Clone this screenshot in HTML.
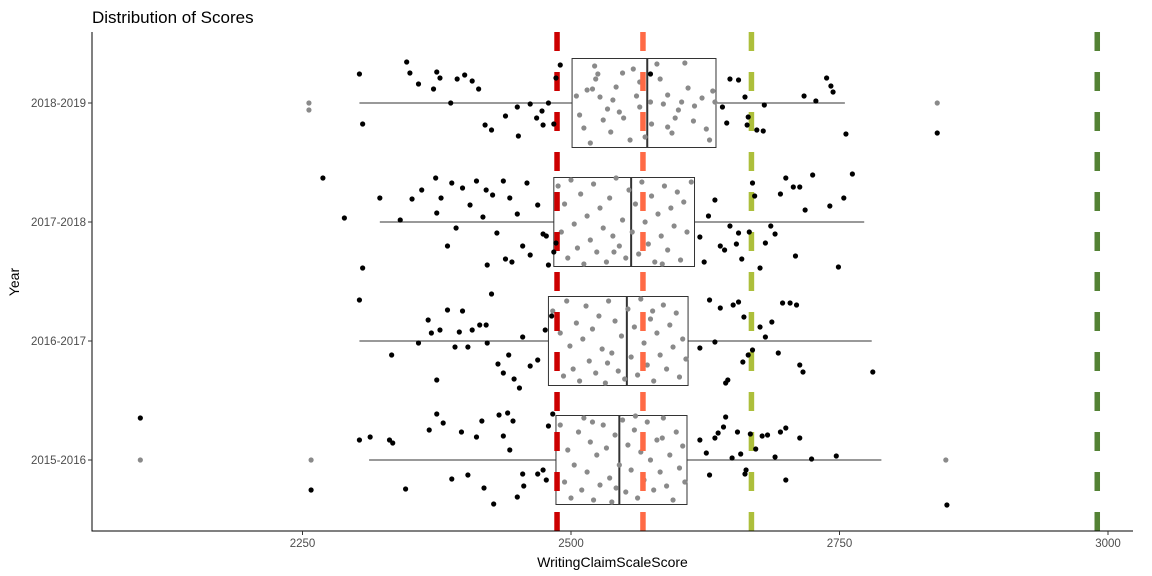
<!DOCTYPE html>
<html><head><meta charset="utf-8"><style>
body{margin:0;background:#fff;}
svg{display:block;font-family:"Liberation Sans",sans-serif;}
</style></head><body>
<svg id="chart" width="1152" height="576" viewBox="0 0 1152 576"></svg>
<script>
const years=["2015-2016","2016-2017","2017-2018","2018-2019"];
const boxLo=[2312,2303,2322,2303];
const boxQ1=[2486,2479,2484,2501];
const boxMed=[2545,2552,2556,2571];
const boxQ3=[2608,2609,2615,2635];
const boxHi=[2789,2780,2773,2755];
const outlierYear=[0,0,0,3,3,3];
const outlierVal=[2099,2258,2849,2256,2256,2841];
const outlierJit=[0,0,0,0,7,0];
const refLines=[2487,2567,2668,2990];
const refColors=["#cc0000","#ff6a45","#adbf3b","#548235"];
const xTicks=[2250,2500,2750,3000];
// black jittered points: score, jitter (px-ish offset)
const pts0=[[2099,-42],[2258,30],[2303,-20],[2313,-23],[2331,-20],[2334,-17],[2346,29],[2368,-30],[2375,-46],[2381,-37],[2389,19],[2398,-28],[2404,15],[2412,-23],[2417,-39],[2419,28],[2428,44],[2433,-45],[2437,-24],[2441,-47],[2443,-10],[2446,-39],[2450,37],[2455,14],[2456,26],[2469,14],[2474,10],[2477,20],[2479,-34],[2483,-46],[2620,-20],[2626,-7],[2629,15],[2634,-22],[2637,-27],[2642,-33],[2644,-43],[2650,-2],[2655,-28],[2658,-6],[2662,14],[2667,-26],[2672,-11],[2678,-24],[2683,-25],[2690,-3],[2695,-28],[2700,-32],[2713,-22],[2724,-1],[2700,20],[2747,-4],[2663,10],[2850,45]];
const pts1=[[2303,-41],[2333,14],[2358,2],[2367,-21],[2370,-8],[2375,39],[2378,-11],[2385,-31],[2392,6],[2396,-9],[2399,-30],[2404,6],[2408,-11],[2415,-16],[2421,-16],[2422,2],[2426,-47],[2432,23],[2437,32],[2442,14],[2447,38],[2452,47],[2455,-4],[2462,25],[2469,19],[2476,-11],[2482,-25],[2620,7],[2629,-41],[2634,1],[2639,-33],[2644,42],[2646,39],[2651,-36],[2656,-39],[2660,21],[2665,14],[2669,9],[2676,-14],[2681,-4],[2687,-19],[2693,12],[2697,-38],[2704,-38],[2710,-36],[2713,24],[2716,31],[2781,31],[2661,-24]];
const pts2=[[2269,-44],[2289,-4],[2306,46],[2322,-24],[2341,-2],[2352,-23],[2361,-32],[2374,-44],[2375,-9],[2379,-24],[2385,24],[2389,-39],[2393,6],[2399,-34],[2406,-17],[2412,-41],[2418,-5],[2421,-32],[2422,43],[2427,-27],[2431,11],[2437,-41],[2439,37],[2443,-24],[2445,40],[2450,-8],[2455,24],[2459,-39],[2462,33],[2469,-17],[2474,12],[2477,14],[2479,43],[2486,21],[2484,30],[2620,15],[2624,40],[2628,-6],[2634,-22],[2639,24],[2643,28],[2648,4],[2654,22],[2656,11],[2659,37],[2666,10],[2669,-39],[2671,-26],[2676,46],[2681,21],[2686,4],[2690,12],[2695,-28],[2700,-44],[2707,-35],[2709,34],[2713,-35],[2718,-12],[2725,-47],[2741,-16],[2749,45],[2754,-24],[2762,-48]];
const pts3=[[2303,-29],[2306,21],[2347,-41],[2350,-30],[2358,-19],[2375,-31],[2372,-14],[2378,-25],[2394,-24],[2401,-28],[2408,-22],[2414,-14],[2388,0],[2420,22],[2426,27],[2439,13],[2450,4],[2451,33],[2462,1],[2468,15],[2473,8],[2474,22],[2486,-25],[2484,21],[2479,0],[2490,-38],[2574,-29],[2656,-23],[2662,-6],[2664,22],[2673,27],[2679,28],[2680,2],[2645,20],[2641,4],[2648,-24],[2665,14],[2717,-7],[2728,-2],[2738,-25],[2742,-17],[2744,-11],[2756,31],[2841,30]];
// gray points inside boxes
const gray0=[[2490,-35],[2494,22],[2497,-10],[2500,38],[2503,5],[2507,-28],[2510,30],[2512,-42],[2515,12],[2518,-18],[2521,40],[2524,-5],[2527,25],[2530,-35],[2533,-12],[2536,18],[2538,42],[2541,-25],[2545,5],[2548,-40],[2551,32],[2553,-15],[2556,10],[2559,-30],[2562,38],[2565,-8],[2568,20],[2571,-38],[2574,0],[2577,30],[2580,-20],[2583,12],[2586,-42],[2589,26],[2592,-5],[2595,40],[2598,-28],[2601,8],[2604,-14],[2606,22],[2520,-38],[2560,-44],[2585,-22],[2542,28]];
const gray1=[[2483,-30],[2487,15],[2490,-8],[2493,35],[2496,-40],[2499,5],[2502,28],[2505,-18],[2508,40],[2511,-2],[2514,-35],[2517,20],[2520,-12],[2523,32],[2526,-25],[2529,8],[2532,42],[2535,-40],[2538,12],[2541,-20],[2544,30],[2547,-5],[2550,38],[2553,-32],[2556,16],[2559,-14],[2562,34],[2565,-42],[2568,2],[2571,24],[2574,-22],[2577,40],[2580,-8],[2583,14],[2586,-36],[2589,28],[2592,-16],[2595,6],[2598,-28],[2601,36],[2604,-2],[2607,18],[2534,22],[2576,-30]];
const gray2=[[2488,-36],[2491,10],[2494,-18],[2497,36],[2500,-42],[2503,2],[2506,26],[2509,-28],[2512,42],[2515,-6],[2518,18],[2521,-38],[2524,30],[2527,-14],[2530,6],[2533,40],[2536,-24],[2539,14],[2542,-44],[2545,24],[2548,-2],[2551,36],[2554,-32],[2557,10],[2560,-18],[2563,32],[2566,-40],[2569,0],[2572,22],[2575,-26],[2578,40],[2581,-8],[2584,14],[2587,-36],[2590,28],[2593,-14],[2596,4],[2599,-30],[2602,38],[2605,-20],[2608,10],[2612,-40],[2540,30],[2585,42]];
const gray3=[[2505,-7],[2508,12],[2512,25],[2515,-13],[2522,-37],[2523,-24],[2525,-29],[2527,-6],[2530,17],[2534,6],[2537,29],[2539,-3],[2542,-16],[2545,9],[2549,15],[2555,37],[2558,-34],[2561,-7],[2564,4],[2569,34],[2574,-1],[2575,21],[2580,-39],[2583,-24],[2586,1],[2590,-8],[2594,30],[2597,15],[2600,7],[2603,-1],[2609,-15],[2614,18],[2615,3],[2622,-5],[2626,26],[2629,37],[2632,-12],[2634,-1],[2518,40],[2564,-21],[2520,-14],[2548,-30],[2590,24],[2606,-40]];
const blackPts=[pts0,pts1,pts2,pts3];
const grayPts=[gray0,gray1,gray2,gray3];

const NS="http://www.w3.org/2000/svg";
const svg=document.getElementById('chart');
const L=92,R=1133,T=32,B=531;
function x(v){return 571+(v-2500)*(268.5/250);}
function y(i){return 460-i*119;}
function jy(i,j){return y(i)+j*(119/119);}
function mk(tag,attrs,parent){const e=document.createElementNS(NS,tag);for(const k in attrs)e.setAttribute(k,attrs[k]);(parent||svg).appendChild(e);return e;}

const title=mk('text',{x:92,y:23,'font-size':17,fill:'#000'});


title.textContent='Distribution of Scores';

// boxes
years.forEach((yr,i)=>{
  const g=mk('g',{});
  
  
  const cy=y(i),h=44.5;
  mk('line',{x1:x(boxLo[i]),x2:x(boxQ1[i]),y1:cy,y2:cy,stroke:'#333','stroke-width':1},g);
  mk('line',{x1:x(boxQ3[i]),x2:x(boxHi[i]),y1:cy,y2:cy,stroke:'#333','stroke-width':1},g);
  mk('rect',{x:x(boxQ1[i]),y:cy-h,width:x(boxQ3[i])-x(boxQ1[i]),height:2*h,fill:'#fff',stroke:'#333','stroke-width':1},g);
  mk('line',{x1:x(boxMed[i]),x2:x(boxMed[i]),y1:cy-h,y2:cy+h,stroke:'#333','stroke-width':2},g);
});
outlierVal.forEach((v,k)=>{
  const c=mk('circle',{cx:x(v),cy:y(outlierYear[k])+outlierJit[k],r:2.6,fill:'#8a8a8a'});
  
  
});
grayPts.forEach((arr,i)=>arr.forEach(p=>{
  const c=mk('circle',{cx:x(p[0]),cy:jy(i,p[1]),r:2.6,fill:'#8a8a8a'});
  
  
}));
// reference lines
refLines.forEach((v,k)=>{
  const l=mk('line',{x1:x(v),x2:x(v),y1:T,y2:B,stroke:refColors[k],'stroke-width':5.5,'stroke-dasharray':'19 21'});
  
  
});
blackPts.forEach((arr,i)=>arr.forEach(p=>{
  const c=mk('circle',{cx:x(p[0]),cy:jy(i,p[1]),r:2.6,fill:'#000'});
  
  
}));
// axes
const ax=mk('path',{d:`M${L},${T}V${B}H${R}`,fill:'none',stroke:'#000','stroke-width':1});


xTicks.forEach(t=>{
  mk('line',{x1:x(t),x2:x(t),y1:B,y2:B+4,stroke:'#333'});
  const tx=mk('text',{x:x(t),y:B+16,'font-size':11.5,fill:'#4d4d4d','text-anchor':'middle'});
  
  
  tx.textContent=t;
});
years.forEach((yr,i)=>{
  mk('line',{x1:L-4,x2:L,y1:y(i),y2:y(i),stroke:'#333'});
  const tx=mk('text',{x:L-6,y:y(i)+4,'font-size':11.5,fill:'#4d4d4d','text-anchor':'end'});
  
  
  tx.textContent=yr;
});
const xt=mk('text',{x:(L+R)/2,y:567,'font-size':14,fill:'#000','text-anchor':'middle'});


xt.textContent='WritingClaimScaleScore';
const yt=mk('text',{x:19,y:282,'font-size':14,fill:'#000','text-anchor':'middle',transform:'rotate(-90 19 282)'});


yt.textContent='Year';
</script>
</body></html>
